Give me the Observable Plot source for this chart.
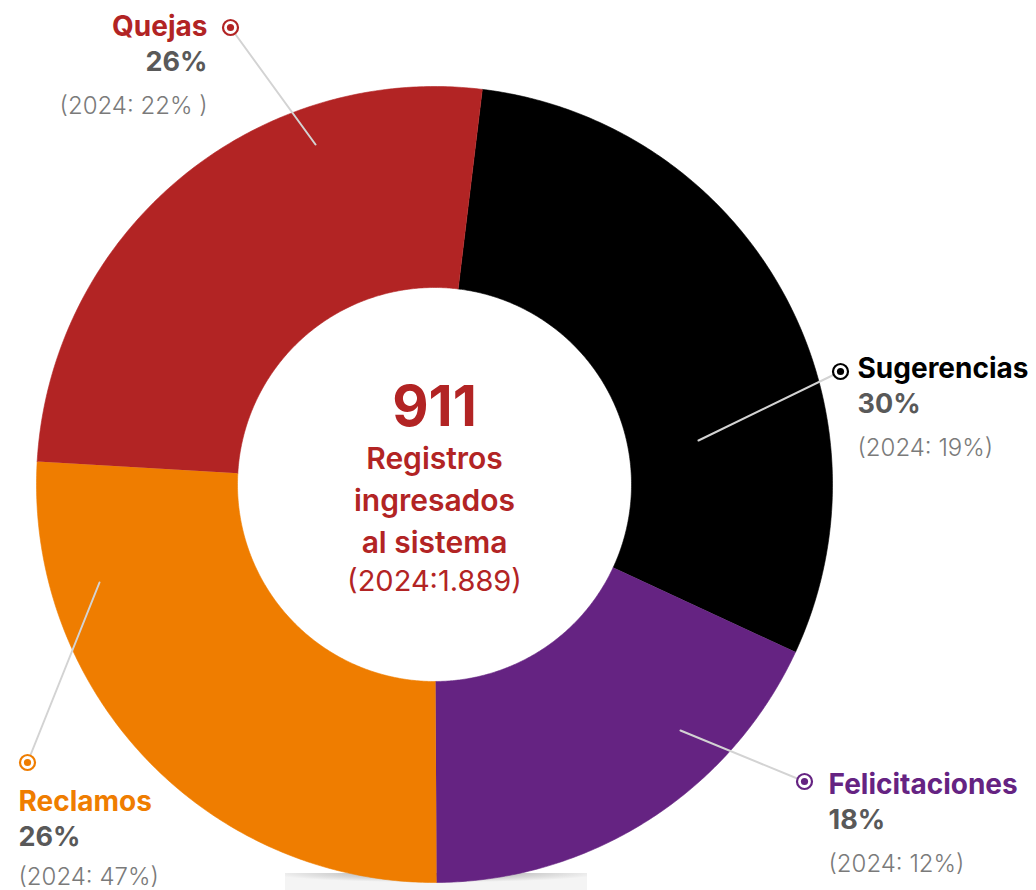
<!DOCTYPE html>
<html>
<head>
<meta charset="utf-8">
<script src="https://cdn.jsdelivr.net/npm/d3@7"></script>
<script src="https://cdn.jsdelivr.net/npm/@observablehq/plot@0.6"></script>
<style>
  html, body { margin: 0; padding: 0; background: #ffffff; }
  #chart svg { display: block; }
</style>
</head>
<body>
<div id="chart"></div>
<script>
// ---- data ----
const categories = ["Sugerencias", "Felicitaciones", "Reclamos", "Quejas"];
const shares2025 = [30, 18, 26, 26];
const shares2024 = [19, 12, 47, 22];
const shareLabels = ["30%", "18%", "26%", "26%"];
const prevLabels = ["(2024: 19%)", "(2024: 12%)", "(2024: 47%)", "(2024: 22% )"];
const totalValue = "911";
const centerLines = ["Registros", "ingresados", "al sistema"];
const prevTotal = "(2024:1.889)";

// ---- styles / layout ----
const colors = {Sugerencias: "#000000", Felicitaciones: "#652382", Reclamos: "#EF7D00", Quejas: "#B22424"};
const W = 1036, H = 890;
const cx = 434, cy = 484, R = 398, r0 = 197;
const startDeg = 6.9;
const FONT = "Inter, 'Noto Sans', sans-serif";

// label layout (pixel positions)
const layout = {
  Sugerencias:   {tx: 857, ty: 377, anchor: "start", mx: 840, my: 371, lx: 698, ly: 440, gap: 78},
  Felicitaciones:{tx: 828, ty: 793, anchor: "start", mx: 804, my: 781, lx: 680, ly: 730, gap: 78},
  Reclamos:      {tx: 18,  ty: 810, anchor: "start", mx: 27,  my: 762, lx: 99,  ly: 582, gap: 74},
  Quejas:        {tx: 207, ty: 35,  anchor: "end",   mx: 230, my: 27,  lx: 315, ly: 144, gap: 78}
};

// ---- geometry from data ----
const pie = d3.pie().sort(null).value(d => d.value)
  .startAngle(startDeg * Math.PI / 180).endAngle(startDeg * Math.PI / 180 + 2 * Math.PI);
const rows = categories.map((c, i) => ({cat: c, value: shares2025[i], prev: shares2024[i], label: shareLabels[i], prevLabel: prevLabels[i]}));
const arcs = pie(rows);
const polyPts = [];
for (const a of arcs) {
  const n = Math.max(8, Math.ceil((a.endAngle - a.startAngle) / (Math.PI / 360)));
  for (let k = 0; k <= n; k++) {
    const t = a.startAngle + (a.endAngle - a.startAngle) * k / n;
    polyPts.push({x: cx + R * Math.sin(t), y: cy - R * Math.cos(t), cat: a.data.cat});
  }
  for (let k = n; k >= 0; k--) {
    const t = a.startAngle + (a.endAngle - a.startAngle) * k / n;
    polyPts.push({x: cx + r0 * Math.sin(t), y: cy - r0 * Math.cos(t), cat: a.data.cat});
  }
}

const labelRows = rows.map(d => ({...d, ...layout[d.cat]}));
const leaderPts = labelRows.flatMap(d => [{x: d.mx, y: d.my, cat: d.cat}, {x: d.lx, y: d.ly, cat: d.cat}]);

function labelMarks(data, anchor) {
  return [
    Plot.text(data, {x: "tx", y: "ty", text: "cat", fill: "cat", textAnchor: anchor, lineAnchor: "bottom",
      fontSize: 28, fontWeight: 700, fontFamily: FONT}),
    Plot.text(data, {x: "tx", y: d => d.ty + 35, text: "label", fill: "#595959", textAnchor: anchor, lineAnchor: "bottom",
      fontSize: 27, fontWeight: 700, fontFamily: FONT}),
    Plot.text(data, {x: "tx", y: d => d.ty + d.gap, text: "prevLabel", fill: "#7a7a7a", textAnchor: anchor, lineAnchor: "bottom",
      fontSize: 24, fontWeight: 300, fontFamily: FONT})
  ];
}

const centerBold = [
  {text: centerLines[0], y: 468},
  {text: centerLines[1], y: 510},
  {text: centerLines[2], y: 552}
];

const plot = Plot.plot({
  width: W, height: H,
  margin: 0,
  x: {domain: [0, W], range: [0, W], axis: null},
  y: {domain: [0, H], range: [0, H], axis: null},
  color: {domain: categories, range: categories.map(c => colors[c])},
  marks: [
    // bottom shadow
    Plot.rect([{x1: 285, x2: 587, y1: 873, y2: 890}], {x1: "x1", x2: "x2", y1: "y1", y2: "y2", fill: "url(#shadowGrad)"}),
    // donut slices
    Plot.line(polyPts, {x: "x", y: "y", z: "cat", fill: "cat", stroke: "cat", strokeWidth: 0.6, curve: "linear"}),
    // leader lines
    Plot.line(leaderPts, {x: "x", y: "y", z: "cat", stroke: "#d3d3d3", strokeWidth: 2}),
    // markers
    Plot.dot(labelRows, {x: "mx", y: "my", r: 7.5, stroke: "cat", strokeWidth: 2.2, fill: "white"}),
    Plot.dot(labelRows, {x: "mx", y: "my", r: 3.6, fill: "cat"}),
    // labels
    ...labelMarks(labelRows.filter(d => d.anchor === "start"), "start"),
    ...labelMarks(labelRows.filter(d => d.anchor === "end"), "end"),
    // center text
    Plot.text([totalValue], {x: () => cx, y: () => 425, text: d => d, fill: "#B22424", textAnchor: "middle", lineAnchor: "bottom",
      fontSize: 56, fontWeight: 700, fontFamily: FONT}),
    Plot.text(centerBold, {x: () => cx, y: "y", text: "text", fill: "#B22424", textAnchor: "middle", lineAnchor: "bottom",
      fontSize: 30, fontWeight: 600, fontFamily: FONT}),
    Plot.text([prevTotal], {x: () => cx, y: () => 590, text: d => d, fill: "#B22424", textAnchor: "middle", lineAnchor: "bottom",
      fontSize: 29, fontWeight: 400, fontFamily: FONT})
  ]
});

// gradient for the soft shadow under the donut
const svg = d3.select(plot);
const defs = svg.insert("defs", ":first-child");
const g = defs.append("radialGradient").attr("id", "shadowGrad").attr("cx", "50%").attr("cy", "0%").attr("r", "55%");
g.append("stop").attr("offset", "0%").attr("stop-color", "#7a7a7a");
g.append("stop").attr("offset", "45%").attr("stop-color", "#c4c4c4");
g.append("stop").attr("offset", "100%").attr("stop-color", "#f4f4f4");
document.getElementById("chart").appendChild(plot);
</script>
</body>
</html>
